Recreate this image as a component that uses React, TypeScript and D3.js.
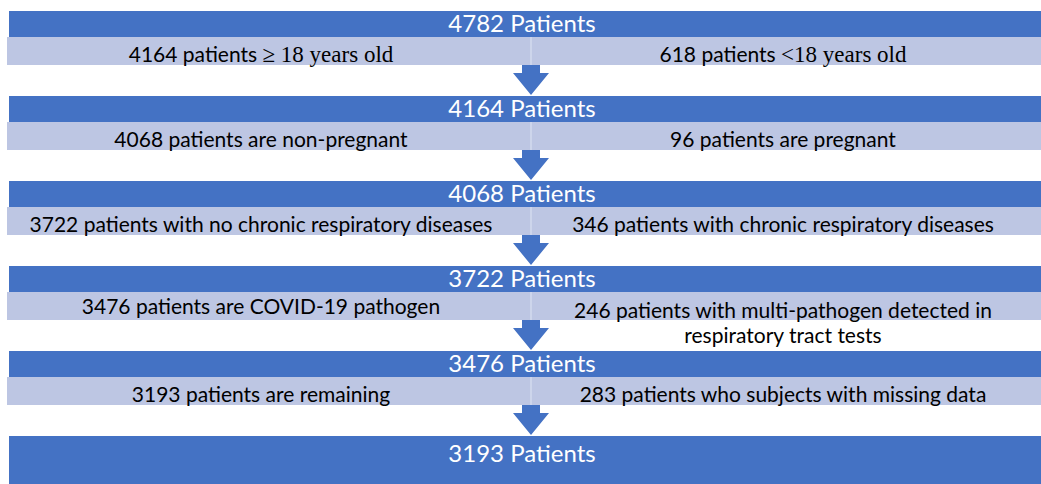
import React from "react";
import * as d3 from "d3";

// ---- data ----
const totals = [4782, 4164, 4068, 3722, 3476, 3193];
const includedLabels: { t: string; serif?: boolean }[][] = [
  [{ t: "4164 patients " }, { t: "≥ 18 years old", serif: true }],
  [{ t: "4068 patients are non-pregnant" }],
  [{ t: "3722 patients with no chronic respiratory diseases" }],
  [{ t: "3476 patients are COVID-19 pathogen" }],
  [{ t: "3193 patients are remaining" }],
];
const excludedLabels: { t: string; serif?: boolean }[][][] = [
  [[{ t: "618 patients " }, { t: "<18 years old", serif: true }]],
  [[{ t: "96 patients are pregnant" }]],
  [[{ t: "346 patients with chronic respiratory diseases" }]],
  [[{ t: "246 patients with multi-pathogen detected in" }], [{ t: "respiratory tract tests" }]],
  [[{ t: "283 patients who subjects with missing data" }]],
];

const W = 1041;
const H = 484;
const DARK = "#4472C4";
const LIGHT = "#BDC6E3";
const SANS = "Lato, 'Noto Sans', sans-serif";
const SERIF = "'Liberation Serif', 'DejaVu Serif', serif";

export default function App() {
  const y = d3.scaleLinear().domain([0, 1]).range([11, 96]);
  const x = d3.scaleLinear().domain([0, 1]).range([0, W]);
  const leftC = 261;
  const rightC = 783;
  const titleC = 522;
  const midX = 531;
  const last = totals.length - 1;

  const arrowPath = (top: number) => {
    const p = d3.path();
    p.moveTo(midX - 9, top);
    p.lineTo(midX + 9, top);
    p.lineTo(midX + 9, top + 8);
    p.lineTo(midX + 18, top + 8);
    p.lineTo(midX, top + 30);
    p.lineTo(midX - 18, top + 8);
    p.lineTo(midX - 9, top + 8);
    p.closePath();
    return p.toString();
  };

  const renderSegs = (segs: { t: string; serif?: boolean }[]) =>
    segs.map((s, k) => (
      <tspan key={k} fontFamily={s.serif ? SERIF : SANS} fontSize={s.serif ? 23 : 21}>
        {s.t}
      </tspan>
    ));

  return (
    <svg
      width={W}
      height={H}
      style={{ position: "absolute", left: 0, top: 0, display: "block", background: "#fff" }}
    >
      {totals.map((v, i) => {
        const T = y(i);
        if (i === last) {
          return (
            <g key={i}>
              <rect x={9} y={T} width={x(1) - 9} height={H - T} fill={DARK} />
              <text x={titleC} y={T + 26} textAnchor="middle" fill="#fff" fontFamily={SANS} fontSize={24}>
                {v} Patients
              </text>
            </g>
          );
        }
        const exc = excludedLabels[i];
        return (
          <g key={i}>
            <rect x={9} y={T} width={x(1) - 9} height={26} fill={DARK} />
            <rect x={7} y={T + 26} width={x(1) - 7} height={28} fill={LIGHT} />
            <line x1={midX} x2={midX} y1={T + 26} y2={T + 54} stroke="#D3DAEE" strokeWidth={1.5} />
            <text x={titleC} y={T + 21} textAnchor="middle" fill="#fff" fontFamily={SANS} fontSize={24}>
              {v} Patients
            </text>
            <text
              x={leftC}
              y={exc.length > 1 ? T + 48 : T + 51}
              textAnchor="middle"
              fill="#000"
            >
              {renderSegs(includedLabels[i])}
            </text>
            {exc.map((line, j) => (
              <text key={j} x={rightC} y={T + 52 + j * 25 - (exc.length > 1 ? 0 : 1)} textAnchor="middle" fill="#000">
                {renderSegs(line)}
              </text>
            ))}
            <path d={arrowPath(T + 54)} fill={DARK} />
          </g>
        );
      })}
    </svg>
  );
}
